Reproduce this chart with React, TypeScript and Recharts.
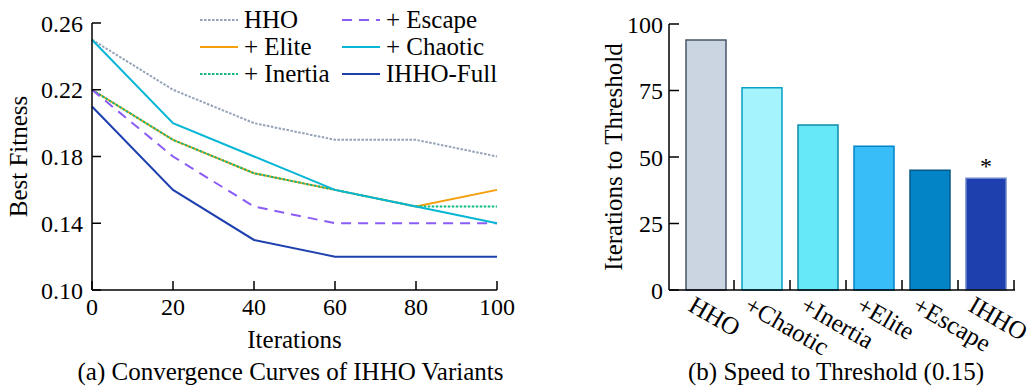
import React from "react";
import {
  LineChart,
  Line,
  BarChart,
  Bar,
  Cell,
  XAxis,
  YAxis,
  Legend,
  LabelList,
} from "recharts";

// (a) convergence curves
const iterations = [0, 20, 40, 60, 80, 100];
const hho = [0.25, 0.22, 0.2, 0.19, 0.19, 0.18];
const elite = [0.22, 0.19, 0.17, 0.16, 0.15, 0.16];
const inertia = [0.22, 0.19, 0.17, 0.16, 0.15, 0.15];
const escape = [0.22, 0.18, 0.15, 0.14, 0.14, 0.14];
const chaotic = [0.25, 0.2, 0.18, 0.16, 0.15, 0.14];
const ihhoFull = [0.21, 0.16, 0.13, 0.12, 0.12, 0.12];
const fitnessTicks = [0.1, 0.14, 0.18, 0.22, 0.26];

// (b) speed to threshold
const variants = ["HHO", "+Chaotic", "+Inertia", "+Elite", "+Escape", "IHHO"];
const itersToThreshold = [94, 76, 62, 54, 45, 42];
const marks = ["", "", "", "", "", "*"];
const countTicks = [0, 25, 50, 75, 100];

const FONT = '"Liberation Serif", "Times New Roman", serif';
const BAR_PAD = { left: 9, right: 1 };

const series = [
  { key: "hho", name: "HHO", color: "#94a3b8", dash: "2.5 1.5" },
  { key: "elite", name: "+ Elite", color: "#f59e0b", dash: undefined },
  { key: "inertia", name: "+ Inertia", color: "#10b981", dash: "2.5 1.5" },
  { key: "escape", name: "+ Escape", color: "#8b5cf6", dash: "10 7" },
  { key: "chaotic", name: "+ Chaotic", color: "#06b6d4", dash: undefined },
  { key: "ihho", name: "IHHO-Full", color: "#1e40af", dash: undefined },
];

const curveData = iterations.map((it, i) => ({
  iter: it,
  hho: hho[i],
  elite: elite[i],
  inertia: inertia[i],
  escape: escape[i],
  chaotic: chaotic[i],
  ihho: ihhoFull[i],
}));

const barFills = ["#cbd5e1", "#a5f3fc", "#67e8f9", "#38bdf8", "#0284c7", "#1e40af"];
const barStrokes = ["#475569", "#06a3c4", "#0e8aa8", "#0284c7", "#075985", "#6b84cc"];

const barData = variants.map((v, i) => ({
  name: v,
  value: itersToThreshold[i],
  mark: marks[i],
}));

const axisStyle = { stroke: "#000", strokeWidth: 1.5 };
const tickText = { fill: "#000", fontSize: 24, fontFamily: FONT };

function CurveLegend() {
  return (
    <svg width={330} height={90} style={{ display: "block" }}>
      {series.map((s, i) => {
        const col = Math.floor(i / 3);
        const row = i % 3;
        const x0 = 5 + col * 142;
        const y0 = 20 + row * 27;
        return (
          <g key={s.key}>
            <line
              x1={x0}
              x2={x0 + 38}
              y1={y0}
              y2={y0}
              stroke={s.color}
              strokeWidth={2}
              strokeDasharray={s.dash}
            />
            <text x={x0 + 44} y={y0 + 8} fontSize={25} fontFamily={FONT} fill="#000">
              {s.name}
            </text>
          </g>
        );
      })}
    </svg>
  );
}

function VariantTick(props: any) {
  const { x, y, payload } = props;
  const tx = x - 19;
  const ty = y + 20;
  return (
    <text
      x={tx}
      y={ty}
      transform={`rotate(30 ${tx} ${ty})`}
      fontSize={25}
      fontFamily={FONT}
      fill="#000"
      stroke="none"
      textAnchor="start"
    >
      {payload.value}
    </text>
  );
}

export default function App() {
  return (
    <div
      style={{
        position: "absolute",
        left: 0,
        top: 0,
        width: 1036,
        height: 387,
        background: "#fff",
        fontFamily: FONT,
      }}
    >
      <div style={{ position: "absolute", left: 0, top: 0 }}>
        <LineChart
          width={520}
          height={387}
          data={curveData}
          margin={{ top: 23, right: 23, left: 0, bottom: 0 }}
        >
          <XAxis
            dataKey="iter"
            type="number"
            domain={[0, 100]}
            ticks={iterations}
            height={97}
            tickSize={-9}
            tickMargin={17}
            tick={tickText}
            axisLine={axisStyle}
            tickLine={axisStyle}
            label={{
              content: (p: any) => {
                const vb = p.viewBox;
                const cx = vb.x + vb.width / 2;
                return (
                  <g fontFamily={FONT} fill="#000" fontSize={25}>
                    <text x={cx} y={vb.y + 58} textAnchor="middle">Iterations</text>
                    <text x={cx - 4} y={vb.y + 90} textAnchor="middle">
                      (a) Convergence Curves of IHHO Variants
                    </text>
                  </g>
                );
              },
            }}
          />
          <YAxis
            type="number"
            domain={[0.1, 0.26]}
            ticks={fitnessTicks}
            width={92}
            tickSize={-9}
            tickMargin={18}
            tickFormatter={(v: number) => v.toFixed(2)}
            tick={tickText}
            axisLine={axisStyle}
            tickLine={axisStyle}
            label={{
              content: (p: any) => {
                const vb = p.viewBox;
                const lx = vb.x + 18;
                const ly = vb.y + vb.height / 2;
                return (
                  <text
                    x={lx}
                    y={ly}
                    transform={`rotate(-90 ${lx} ${ly})`}
                    textAnchor="middle"
                    dominantBaseline="central"
                    fontFamily={FONT}
                    fontSize={25}
                    fill="#000"
                  >
                    Best Fitness
                  </text>
                );
              },
            }}
          />
          <Legend
            layout="horizontal"
            verticalAlign="middle"
            align="center"
            content={() => <CurveLegend />}
            wrapperStyle={{ position: "absolute", left: 195, top: 0, width: 330 }}
          />
          {series.map((s) => (
            <Line
              key={s.key}
              dataKey={s.key}
              name={s.name}
              type="linear"
              stroke={s.color}
              strokeWidth={2}
              strokeDasharray={s.dash}
              dot={false}
              activeDot={false}
              isAnimationActive={false}
            />
          ))}
        </LineChart>
      </div>
      <div style={{ position: "absolute", left: 580, top: 0 }}>
        <BarChart
          width={456}
          height={387}
          data={barData}
          margin={{ top: 24, right: 21, left: 0, bottom: 0 }}
        >
          <XAxis
            dataKey="name"
            type="category"
            height={97}
            padding={BAR_PAD}
            interval={0}
            tickLine={false}
            tickSize={0}
            tickMargin={0}
            axisLine={axisStyle}
            tick={<VariantTick />}
            label={{
              content: (p: any) => {
                const vb = p.viewBox;
                // inward tick marks on the right edge of each category band
                const band = (vb.width - BAR_PAD.left - BAR_PAD.right) / variants.length;
                return (
                  <g>
                    {variants.map((v, i) => {
                      const ex = vb.x + BAR_PAD.left + band * (i + 1);
                      return (
                        <line
                          key={v}
                          x1={ex}
                          x2={ex}
                          y1={vb.y}
                          y2={vb.y - 10}
                          stroke="#000"
                          strokeWidth={1.5}
                        />
                      );
                    })}
                    <text
                      x={vb.x + vb.width / 2 - 6}
                      y={vb.y + 90}
                      textAnchor="middle"
                      fontFamily={FONT}
                      fontSize={25}
                      fill="#000"
                    >
                      (b) Speed to Threshold (0.15)
                    </text>
                  </g>
                );
              },
            }}
          />
          <YAxis
            type="number"
            domain={[0, 100]}
            ticks={countTicks}
            width={89}
            tickSize={-10}
            tickMargin={16}
            tick={tickText}
            axisLine={axisStyle}
            tickLine={axisStyle}
            label={{
              content: (p: any) => {
                const vb = p.viewBox;
                const lx = vb.x + 33;
                const ly = vb.y + vb.height / 2;
                return (
                  <text
                    x={lx}
                    y={ly}
                    transform={`rotate(-90 ${lx} ${ly})`}
                    textAnchor="middle"
                    dominantBaseline="central"
                    fontFamily={FONT}
                    fontSize={25}
                    fill="#000"
                  >
                    Iterations to Threshold
                  </text>
                );
              },
            }}
          />
          <Bar dataKey="value" barSize={40} strokeWidth={1.5} isAnimationActive={false}>
            {barData.map((d, i) => (
              <Cell key={d.name} fill={barFills[i]} stroke={barStrokes[i]} />
            ))}
            <LabelList
              dataKey="mark"
              position="top"
              offset={4}
              fill="#000"
              fontSize={24}
              fontFamily={FONT}
            />
          </Bar>
        </BarChart>
      </div>
    </div>
  );
}
